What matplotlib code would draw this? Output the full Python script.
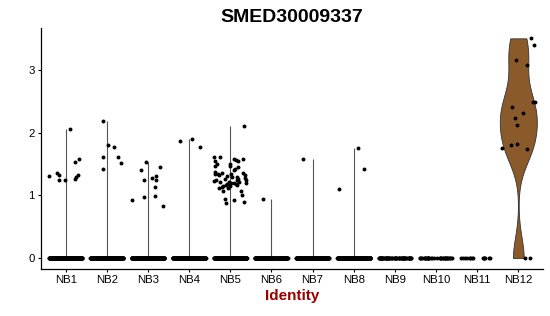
import matplotlib
matplotlib.use("Agg")
import matplotlib.pyplot as plt
import numpy as np

plt.rcParams['font.family'] = ['Liberation Sans', 'DejaVu Sans']

###================ Data =================###

gene = "SMED30009337"
clusters = ["NB1", "NB2", "NB3", "NB4", "NB5", "NB6",
            "NB7", "NB8", "NB9", "NB10", "NB11", "NB12"]

# expression values of the cells that are not zero
nb1 = [2.06, 1.58, 1.53, 1.36, 1.32, 1.32, 1.31, 1.30, 1.26, 1.24, 1.24]
nb2 = [2.19, 1.80, 1.77, 1.62, 1.62, 1.52, 1.43]
nb3 = [1.54, 1.46, 1.41, 1.31, 1.28, 1.25, 1.24, 1.14, 0.99, 0.97, 0.93, 0.83]
nb4 = [1.90, 1.87, 1.77]
nb5 = [2.11, 1.62, 1.61, 1.59, 1.58, 1.57, 1.55, 1.55, 1.51, 1.50,
       1.47, 1.47, 1.46, 1.42, 1.40, 1.37, 1.36, 1.36, 1.35, 1.34,
       1.34, 1.33, 1.32, 1.31, 1.30, 1.29, 1.28, 1.27, 1.26, 1.25,
       1.25, 1.24, 1.23, 1.22, 1.21, 1.21, 1.20, 1.20, 1.20, 1.19,
       1.18, 1.17, 1.17, 1.17, 1.16, 1.15, 1.15, 1.13, 1.12, 1.12,
       1.07, 1.07, 1.00, 0.95, 0.93, 0.90, 0.88]
nb6 = [0.95]
nb7 = [1.59]
nb8 = [1.76, 1.43, 1.11]
nb9 = []
nb10 = []
nb11 = []
nb12 = [3.51, 3.41, 3.16, 3.09, 2.50, 2.50, 2.42, 2.32, 2.23, 2.12,
        1.82, 1.80, 1.76, 1.74]

# number of cells with zero expression per cluster (estimated)
n_zero = [300, 320, 300, 280, 250, 220, 250, 260, 60, 35, 14, 2]

nonzero = [nb1, nb2, nb3, nb4, nb5, nb6, nb7, nb8, nb9, nb10, nb11, nb12]
violin_colour = "#8B5A2B"


def cluster_values(vals: list, zeros: int) -> np.ndarray:
    return np.concatenate([np.asarray(vals, dtype=float), np.zeros(zeros)])


def nrd0_factor(values: np.ndarray) -> float:
    """R's bw.nrd0 bandwidth turned into a gaussian_kde factor"""
    sd = values.std(ddof=1)
    q1, q3 = np.percentile(values, [25, 75])
    lo = min(sd, (q3 - q1) / 1.34)
    bw = 0.9 * lo * len(values) ** -0.2
    return bw / sd


###================ Plot =================###

data = [cluster_values(v, n) for v, n in zip(nonzero, n_zero)]
positions = np.arange(1, len(clusters) + 1)

fig = plt.figure(figsize=(5.5, 3.16), dpi=100)
ax = fig.add_axes([41 / 550, 1 - 269 / 316, 502 / 550, 241 / 316])

# clusters made of nearly only zeros give a violin that is just a thin line
for pos, vals in zip(positions[:-1], data[:-1]):
    if vals.max() > 0:
        ax.vlines(pos, 0, vals.max(), color="#555555", linewidth=0.8, zorder=1)

vp = ax.violinplot(data[-1], positions=[positions[-1]], widths=0.9,
                   showextrema=False, bw_method=nrd0_factor(data[-1]))
for body in vp["bodies"]:
    body.set_facecolor(violin_colour)
    body.set_edgecolor("#333333")
    body.set_linewidth(0.6)
    body.set_alpha(1)
    body.set_zorder(1)

rng = np.random.default_rng(7)
for pos, vals in zip(positions, data):
    x = pos + rng.uniform(-0.4, 0.4, size=len(vals))
    ax.scatter(x, vals, s=8, color="black", linewidths=0, zorder=3)

ax.set_xlim(0.4, len(clusters) + 0.6)
ax.set_ylim(-0.175, 3.675)
ax.set_xticks(positions)
ax.set_xticklabels(clusters)
ax.set_yticks([0, 1, 2, 3])
ax.tick_params(axis="both", direction="out", length=2.5, width=0.8,
               labelsize=8.2, colors="black", pad=2)
for side in ("top", "right"):
    ax.spines[side].set_visible(False)
for side in ("left", "bottom"):
    ax.spines[side].set_linewidth(0.9)

ax.set_title(gene, fontsize=14, fontweight="bold", pad=4)
ax.set_xlabel("Identity", fontsize=11, fontweight="bold", color="#990000",
              labelpad=3)

fig.savefig("out.png", dpi=100)
